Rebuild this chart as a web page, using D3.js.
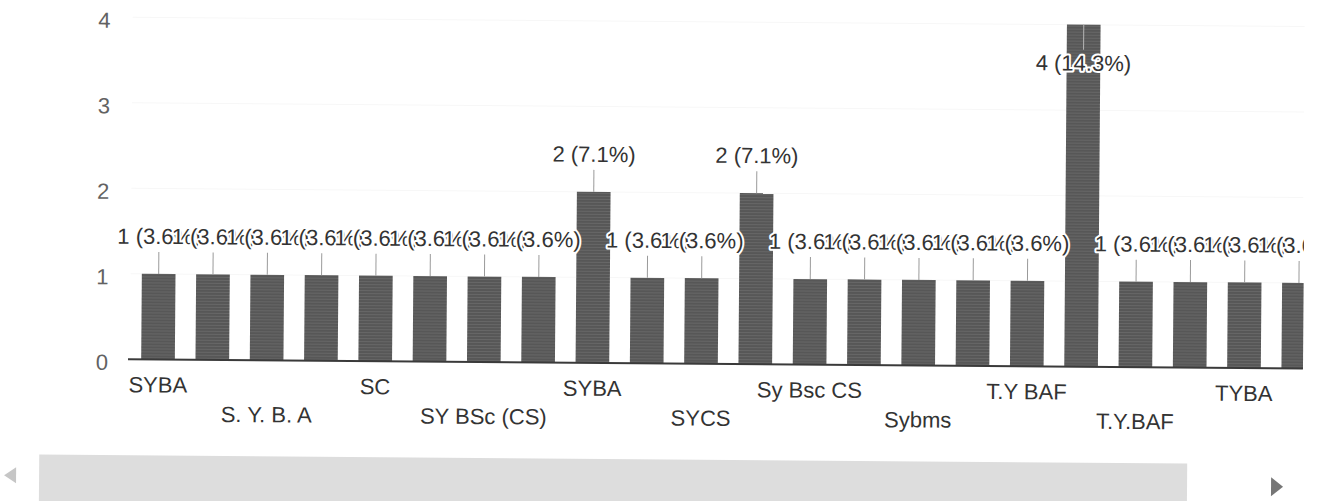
<!DOCTYPE html>
<html>
<head>
<meta charset="utf-8">
<script src="https://cdn.jsdelivr.net/npm/d3@7"></script>
<style>
  html, body { margin: 0; padding: 0; background: #fff; }
  svg { display: block; }
  text { font-family: "Liberation Sans", Arial, sans-serif; }
</style>
</head>
<body>
<script>
// ---- data ----
const categories = [
  "SYBA", "S.Y.B.A", "S. Y. B. A", "SY BA", "SC", "SY BSC", "SY BSc (CS)", "SY BSc",
  "SYBA ", "SYBCOM", "SYCS", "Sy BSc (CS)", "Sy Bsc CS", "Sybcom", "Sybms", "T.Y BA",
  "T.Y BAF", "T.Y.BA", "T.Y.BAF", "TY BAF", "TYBA", "TYBAF"
];
const values = [1, 1, 1, 1, 1, 1, 1, 1, 2, 1, 1, 2, 1, 1, 1, 1, 1, 4, 1, 1, 1, 1];
const yTicks = [0, 1, 2, 3, 4];
const totalResponses = 28;

// ---- layout ----
const W = 1327, H = 501;
const svg = d3.select("body").append("svg").attr("width", W).attr("height", H);
svg.append("rect").attr("width", W).attr("height", H).attr("fill", "#fff");

const defs = svg.append("defs");
const pat = defs.append("pattern").attr("id", "tex")
  .attr("patternUnits", "userSpaceOnUse").attr("width", 6).attr("height", 3);
pat.append("rect").attr("width", 6).attr("height", 3).attr("fill", "#575757");
pat.append("rect").attr("width", 6).attr("height", 1).attr("fill", "#676767");
defs.append("clipPath").attr("id", "plotClip")
  .append("rect").attr("x", 0).attr("y", -20).attr("width", 1303).attr("height", 540);

// the photographed page is slightly tilted
const g = svg.append("g").attr("transform", "rotate(0.45,100,360)");

const step = 54.3;
const x = d3.scaleBand().domain(categories)
  .range([158 - step / 2, 158 - step / 2 + categories.length * step])
  .paddingInner(0.38).paddingOuter(0.19);
const y = d3.scaleLinear().domain([0, 4]).range([359, 17]);

// gridlines (nearly invisible in the reference)
g.append("g").selectAll("line").data(yTicks.filter(d => d > 0)).join("line")
  .attr("x1", 130).attr("x2", 1302)
  .attr("y1", d => y(d)).attr("y2", d => y(d))
  .attr("stroke", "#f7f7f7").attr("stroke-width", 1);

// y tick labels
g.append("g").selectAll("text").data(yTicks).join("text")
  .attr("x", 108).attr("y", d => y(d) + 3).attr("dy", "0.35em")
  .attr("text-anchor", "end").attr("font-size", 22).attr("fill", "#626262")
  .text(d => d);

const plot = g.append("g").attr("clip-path", "url(#plotClip)");

// bars
plot.append("g").selectAll("rect").data(categories).join("rect")
  .attr("x", d => x(d)).attr("width", x.bandwidth())
  .attr("y", (d, i) => y(values[i]))
  .attr("height", (d, i) => y(0) - y(values[i]))
  .attr("fill", "url(#tex)");

// baseline
plot.append("line").attr("x1", 128).attr("x2", 1303)
  .attr("y1", y(0)).attr("y2", y(0))
  .attr("stroke", "#3a3a3a").attr("stroke-width", 2);

// annotations
const ann = categories.map((c, i) => {
  const v = values[i];
  const top = y(v);
  const inside = top - 46 < 5;
  return {
    cx: x(c) + x.bandwidth() / 2,
    top, inside,
    base: inside ? top + 46 : top - 30,
    s1: inside ? top : top - 22,
    s2: inside ? top + 25 : top,
    text: v + " (" + (v / totalResponses * 100).toFixed(1) + "%)"
  };
});
plot.append("g").selectAll("line").data(ann).join("line")
  .attr("x1", d => d.cx).attr("x2", d => d.cx)
  .attr("y1", d => d.s1).attr("y2", d => d.s2)
  .attr("stroke", d => d.inside ? "#b5b5b5" : "#9a9a9a").attr("stroke-width", 1);
plot.append("g").selectAll("text").data(ann).join("text")
  .attr("x", d => d.cx).attr("y", d => d.base)
  .attr("text-anchor", "middle").attr("font-size", 22)
  .attr("fill", "#333").attr("stroke", "#fff").attr("stroke-width", 4)
  .attr("stroke-linejoin", "round").attr("paint-order", "stroke")
  .text(d => d.text);

// x labels (every other category, staggered rows)
g.append("g").selectAll("text")
  .data(categories.map((c, i) => ({ c, i })).filter(d => d.i % 2 === 0))
  .join("text")
  .attr("x", d => x(d.c) + x.bandwidth() / 2)
  .attr("y", d => (d.i / 2) % 2 === 0 ? 392 : 421)
  .attr("text-anchor", "middle").attr("font-size", 22).attr("fill", "#333")
  .text(d => d.c);

// scrollbar
g.append("rect").attr("x", 40).attr("y", 455).attr("width", 1148).attr("height", 55)
  .attr("fill", "#dddddd");
g.append("polygon").attr("points", "5,476 17,468 17,484").attr("fill", "#c6c6c6");
g.append("polygon").attr("points", "1272,468 1272,487 1284,477.5").attr("fill", "#767676");
</script>
</body>
</html>
